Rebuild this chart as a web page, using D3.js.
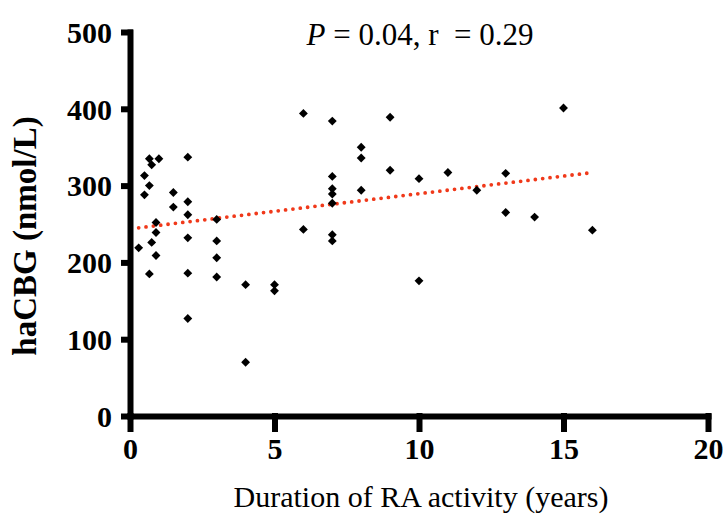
<!DOCTYPE html>
<html>
<head>
<meta charset="utf-8">
<script src="https://cdn.jsdelivr.net/npm/d3@7"></script>
<style>
  body { margin: 0; background: #fff; }
  svg { display: block; }
  text { font-family: "Liberation Serif", "Times New Roman", serif; fill: #000; }
</style>
</head>
<body>
<div id="chart"></div>
<script>
// Duration of RA activity (years) and haCBG (nmol/L)
const duration = [
  0.67, 1, 2, 0.75, 0.5, 0.67, 0.5, 1.5, 1.5, 2, 2, 0.9, 3, 0.9, 0.3, 0.75, 2, 3,
  0.9, 3, 0.67, 2, 3, 4, 2, 4, 6, 7, 9, 8, 8, 9, 10, 11, 7, 7, 7, 7, 8, 6, 7, 7,
  5, 5, 10, 13, 15, 12, 13, 14, 16
];
const hacbg = [
  335, 335, 337, 327, 313, 300, 288, 291, 272, 279, 262, 252, 256, 239, 219, 226, 232, 228,
  209, 206, 185, 186, 181, 171, 127, 70, 394, 384, 389, 350, 336, 320, 309, 317, 312, 296, 289, 277, 294, 243, 236, 228,
  171, 163, 176, 316, 401, 294, 265, 259, 242
];
// linear regression line end points (x, y)
const fitX = [0.3, 16];
const fitY = [245, 317];

const xTicks = [0, 5, 10, 15, 20];
const yTicks = [0, 100, 200, 300, 400, 500];
const xLabel = 'Duration of RA activity (years)';
const yLabel = 'haCBG (nmol/L)';

const W = 725, H = 521;
const margin = { left: 130, right: 17, top: 32, bottom: 105 };
const width = W - margin.left - margin.right;
const height = H - margin.top - margin.bottom;

const svg = d3.select('#chart')
  .append('svg')
  .attr('width', W)
  .attr('height', H);

const g = svg.append('g')
  .attr('transform', `translate(${margin.left},${margin.top})`);

const x = d3.scaleLinear().domain([0, 20]).range([0, width]);
const y = d3.scaleLinear().domain([0, 500]).range([height, 0]);

// axes
const xAxis = g.append('g')
  .attr('transform', `translate(0,${height})`)
  .call(d3.axisBottom(x).tickValues(xTicks).tickSize(16).tickSizeOuter(0).tickPadding(6));

const yAxis = g.append('g')
  .call(d3.axisLeft(y).tickValues(yTicks).tickSize(9).tickSizeOuter(0).tickPadding(9));

[xAxis, yAxis].forEach(ax => {
  ax.select('.domain').attr('stroke', '#000').attr('stroke-width', 6).attr('stroke-linecap', 'square');
  ax.selectAll('.tick line').attr('stroke', '#000').attr('stroke-width', 6);
  ax.selectAll('text')
    .style('font-family', '"Liberation Serif", "Times New Roman", serif')
    .style('font-weight', 'bold')
    .style('font-size', '30px')
    .attr('fill', '#000');
});
xAxis.selectAll('.tick line').attr('y1', -3);
yAxis.selectAll('.tick line').attr('x1', 3);
yAxis.selectAll('text').attr('dy', '0.34em');

// regression line
g.append('path')
  .datum(fitX.map((d, i) => [d, fitY[i]]))
  .attr('fill', 'none')
  .attr('stroke', '#f0391a')
  .attr('stroke-width', 3.8)
  .attr('stroke-linecap', 'round')
  .attr('stroke-dasharray', '0,7.4')
  .attr('d', d3.line().x(d => x(d[0])).y(d => y(d[1])));

// points
g.selectAll('.pt')
  .data(duration.map((d, i) => ({ x: d, y: hacbg[i] })))
  .join('path')
  .attr('class', 'pt')
  .attr('transform', d => `translate(${x(d.x)},${y(d.y)})`)
  .attr('d', d3.symbol(d3.symbolDiamond2, 50))
  .attr('fill', '#000');

// title
const title = svg.append('text')
  .attr('x', 420)
  .attr('y', 45)
  .attr('text-anchor', 'middle')
  .style('font-size', '31px');
title.append('tspan').style('font-style', 'italic').text('P');
title.append('tspan').text(' = 0.04, r\u00a0 = 0.29');

// axis labels
svg.append('text')
  .attr('x', 421)
  .attr('y', 507)
  .attr('text-anchor', 'middle')
  .style('font-size', '30px')
  .text(xLabel);

svg.append('text')
  .attr('transform', 'translate(36,236) rotate(-90)')
  .attr('text-anchor', 'middle')
  .style('font-size', '33px')
  .style('font-weight', 'bold')
  .text(yLabel);
</script>
</body>
</html>
